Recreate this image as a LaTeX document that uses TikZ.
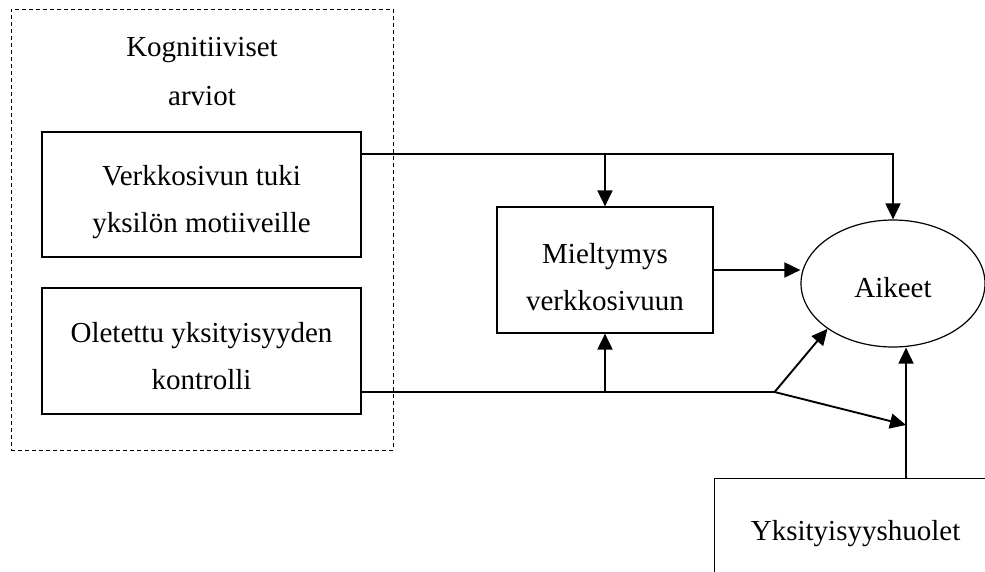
\documentclass[tikz,border=0pt]{standalone}
\usepackage{fontspec}
\setmainfont{Liberation Serif}
\usetikzlibrary{arrows.meta,shapes.geometric,calc}
\begin{document}
\begin{tikzpicture}[x=1pt,y=-1pt,
  txt/.style={font=\fontsize{29}{47}\selectfont, align=center},
  box/.style={txt, draw, line width=1.2pt, inner sep=0pt},
  grpframe/.style={draw, line width=1pt, dash pattern=on 4pt off 3pt, inner sep=0pt},
  conn/.style={line width=1.9pt},
  arr/.style={conn, -{Triangle[length=16pt,width=15pt]}}]
\clip (0,0) rectangle (985,571);
% group frame and its heading
\node[grpframe, minimum width=382, minimum height=441] (grp) at (202,229.5) {};
\node[txt, font=\fontsize{29}{49}\selectfont] (grptitle) at (202,72) {Kognitiiviset\\arviot};
% boxes (the invisible rules push each text block a little lower)
\node[box, minimum width=319, minimum height=125] (b1) at (201.5,194.5) {\rule{0pt}{36pt}Verkkosivun tuki\\yksilön motiiveille};
\node[box, minimum width=319, minimum height=126] (b2) at (201.5,351) {\rule{0pt}{30pt}Oletettu yksityisyyden\\kontrolli};
\node[box, minimum width=216, minimum height=126] (mid) at (605,270) {\rule{0pt}{34pt}Mieltymys\\verkkosivuun};
\node[box, ellipse, minimum width=184, minimum height=127] (aik) at (893,283.5) {\rule{0pt}{28pt}Aikeet};
\node[box, anchor=north west, minimum width=282, minimum height=108] (yk) at (714,478) {\rule{0pt}{23pt}Yksityisyyshuolet};
% connector points
\coordinate (o1) at ($(b1.east)+(0,-40.5)$);
\coordinate (o2) at ($(b2.east)+(0,41)$);
\coordinate (yktop) at ($(yk.north west)+(192,0)$);
\coordinate (br) at ($(o2)+(413,0)$);
\coordinate (join) at ($(yktop)+(0,-53)$);
% connectors
\draw[arr] (o1) -- (aik.north |- o1) -- (aik.north);
\draw[arr] (mid.north |- o1) -- (mid.north);
\draw[arr] (mid.east) -- (mid.east -| aik.west);
\draw[conn] (o2) -- (br);
\draw[arr] (mid.south |- o2) -- (mid.south);
\draw[arr] (br) -- (aik.south west);
\draw[arr] (br) -- (join);
\draw[arr] (yktop) -- (aik.south -| yktop);
\end{tikzpicture}
\end{document}
